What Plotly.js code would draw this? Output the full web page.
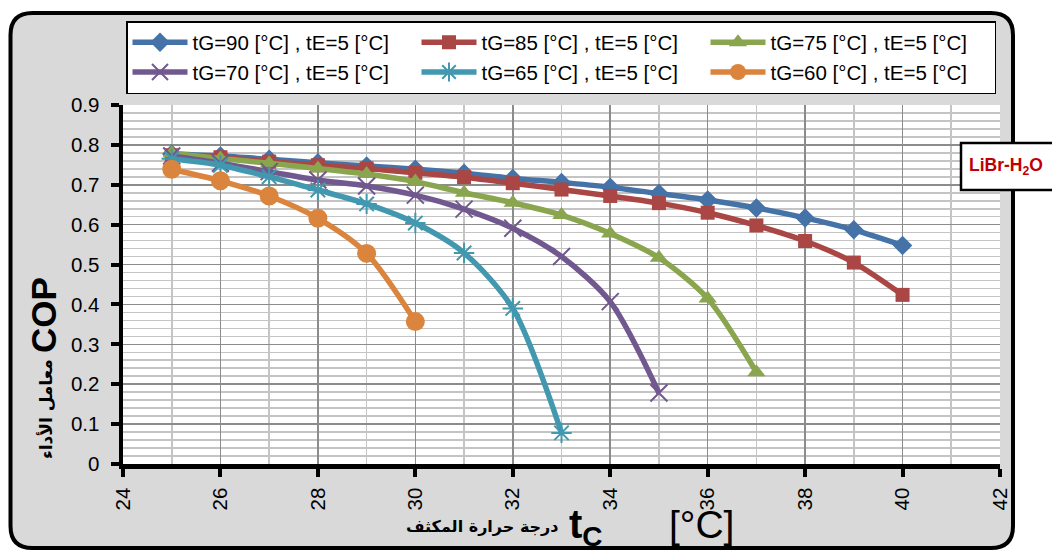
<!DOCTYPE html>
<html>
<head>
<meta charset="utf-8">
<script src="https://cdn.plot.ly/plotly-3.0.1.min.js"></script>
<style>
html,body{margin:0;padding:0;background:#fff;}
#chart{width:1052px;height:551px;}
</style>
</head>
<body>
<div id="chart"></div>
<script>
// ---- data ----
var tC = [25,26,27,28,29,30,31,32,33,34,35,36,37,38,39,40];
var seriesNames = [
  "tG=90 [°C] , tE=5 [°C]",
  "tG=85 [°C] , tE=5 [°C]",
  "tG=75 [°C] , tE=5 [°C]",
  "tG=70 [°C] , tE=5 [°C]",
  "tG=65 [°C] , tE=5 [°C]",
  "tG=60 [°C] , tE=5 [°C]"
];
var cop90 = [0.777,0.772,0.764,0.755,0.747,0.739,0.729,0.716,0.706,0.694,0.678,0.662,0.642,0.617,0.587,0.548];
var cop85 = [0.774,0.769,0.758,0.749,0.741,0.730,0.719,0.704,0.688,0.672,0.654,0.630,0.598,0.559,0.505,0.424];
var cop75 = [0.779,0.766,0.754,0.741,0.727,0.708,0.680,0.655,0.624,0.578,0.517,0.415,0.230];
var cop70 = [0.772,0.754,0.733,0.712,0.697,0.674,0.639,0.591,0.520,0.407,0.178];
var cop65 = [0.765,0.749,0.720,0.687,0.652,0.604,0.529,0.390,0.078];
var cop60 = [0.739,0.710,0.672,0.616,0.528,0.357];

var yTitleAr = "معامل الأداء";
var yTitleEn = "COP";
var xTitleAr = "درجة حرارة المكثف";
var xTitleSym = "t<sub>C</sub>";
var xTitleUnit = "[°C]";
var fluidLabel = "LiBr-H<sub>2</sub>O";

// ---- styles ----
var colors = ["#4572A7","#AA4643","#89A54E","#71588F","#4198AF","#DB843D"];
var symbols = ["diamond","square","triangle-up","x-thin-open","asterisk-open","circle"];
var msizes = [15,14,16,17,17,19];
var allY = [cop90,cop85,cop75,cop70,cop65,cop60];

var W = 1052, H = 551;
var M = {l:123, r:52, t:105, b:87};
var PW = W - M.l - M.r, PH = H - M.t - M.b;
function px(X){ return (X - M.l)/PW; }
function py(Y){ return (H - M.b - Y)/PH; }

var traces = allY.map(function(ys,i){
  var open = symbols[i].indexOf("open") >= 0;
  return {
    x: tC.slice(0, ys.length),
    y: ys,
    name: seriesNames[i],
    type: "scatter",
    mode: "lines+markers",
    line: {color: colors[i], width: 5.5, shape: "spline", smoothing: 0.8},
    marker: {symbol: symbols[i], size: msizes[i], color: colors[i],
             line: {color: colors[i], width: open ? 2 : 0}}
  };
});

// rounded chart border
var bx0 = px(10.5), bx1 = px(1013), byT = py(13), byB = py(548);
var rx = 22/PW, ry = 22/PH;
var borderPath = "M" + (bx0+rx) + "," + byT +
  " L" + (bx1-rx) + "," + byT +
  " Q" + bx1 + "," + byT + " " + bx1 + "," + (byT-ry) +
  " L" + bx1 + "," + (byB+ry) +
  " Q" + bx1 + "," + byB + " " + (bx1-rx) + "," + byB +
  " L" + (bx0+rx) + "," + byB +
  " Q" + bx0 + "," + byB + " " + bx0 + "," + (byB+ry) +
  " L" + bx0 + "," + (byT-ry) +
  " Q" + bx0 + "," + byT + " " + (bx0+rx) + "," + byT + " Z";

var axisCommon = {
  showline: true, linecolor: "#000", linewidth: 4.5,
  ticks: "outside", ticklen: 8, tickwidth: 4, tickcolor: "#000",
  showgrid: true, gridcolor: "#8c8c8c", gridwidth: 1.6,
  zeroline: false,
  tickfont: {family: "Liberation Sans, Arial, sans-serif", size: 20.5, color: "#000"}
};

var layout = {
  width: W, height: H,
  margin: M,
  paper_bgcolor: "#ffffff",
  plot_bgcolor: "rgba(0,0,0,0)",
  font: {family: "Liberation Sans, Arial, sans-serif", color: "#000"},
  showlegend: true,
  legend: {
    orientation: "h", x: px(126), y: py(21), xanchor: "left", yanchor: "top",
    bgcolor: "#fff", bordercolor: "#000", borderwidth: 1.5,
    entrywidth: 219, itemwidth: 55,
    font: {family: "Liberation Sans, Arial, sans-serif", size: 20.5, color: "#000"},
    tracegroupgap: 0
  },
  xaxis: Object.assign({}, axisCommon, {
    range: [24, 42], tick0: 24, dtick: 2, tickangle: -90,
    ticklabelstandoff: 3,
    minor: {dtick: 1, showgrid: true, gridcolor: "#c4c4c4", gridwidth: 1.6, ticks: ""}
  }),
  yaxis: Object.assign({}, axisCommon, {
    range: [0, 0.9], tick0: 0, dtick: 0.1,
    ticklabelstandoff: 7,
    minor: {dtick: 0.02, showgrid: true, gridcolor: "#c4c4c4", gridwidth: 1.6, ticks: ""}
  }),
  shapes: [
    {type: "path", xref: "paper", yref: "paper", path: borderPath,
     fillcolor: "#d9d9d9", line: {color: "#000", width: 4}, layer: "below"},
    {type: "rect", xref: "paper", yref: "paper", x0: 0, x1: 1, y0: 0, y1: 1,
     fillcolor: "#fff", line: {width: 0}, layer: "below"},
    {type: "rect", xref: "paper", yref: "paper", x0: px(961), x1: px(1065), y0: py(190), y1: py(143),
     fillcolor: "#fff", line: {color: "#000", width: 2.5}, layer: "above"}
  ],
  annotations: [
    {xref: "paper", yref: "paper", x: px(1006), y: py(166), text: "<b>" + fluidLabel + "</b>",
     showarrow: false, xanchor: "center", yanchor: "middle",
     font: {family: "Liberation Sans, Arial, sans-serif", size: 17.5, color: "#C00000"}},
    {xref: "paper", yref: "paper", x: px(43), y: py(315), text: "<b>" + yTitleEn + "</b>",
     showarrow: false, textangle: -90, xanchor: "center", yanchor: "middle",
     font: {family: "Liberation Sans, Arial, sans-serif", size: 35, color: "#000"}},
    {xref: "paper", yref: "paper", x: px(46), y: py(409), text: "<b>" + yTitleAr + "</b>",
     showarrow: false, textangle: -90, xanchor: "center", yanchor: "middle",
     font: {family: "DejaVu Sans, Noto Sans, sans-serif", size: 17, color: "#000"}},
    {xref: "paper", yref: "paper", x: px(482), y: py(526), text: "<b>" + xTitleAr + "</b>",
     showarrow: false, xanchor: "center", yanchor: "middle",
     font: {family: "DejaVu Sans, Noto Sans, sans-serif", size: 16, color: "#000"}},
    {xref: "paper", yref: "paper", x: px(586), y: py(527), text: "<b>" + xTitleSym + "</b>",
     showarrow: false, xanchor: "center", yanchor: "middle",
     font: {family: "Liberation Sans, Arial, sans-serif", size: 40, color: "#000"}},
    {xref: "paper", yref: "paper", x: px(701), y: py(524), text: xTitleUnit,
     showarrow: false, xanchor: "center", yanchor: "middle",
     font: {family: "Liberation Sans Narrow, Liberation Sans, Arial, sans-serif", size: 39, color: "#000"}}
  ]
};

Plotly.newPlot("chart", traces, layout, {displayModeBar: false, staticPlot: true});
</script>
</body>
</html>
